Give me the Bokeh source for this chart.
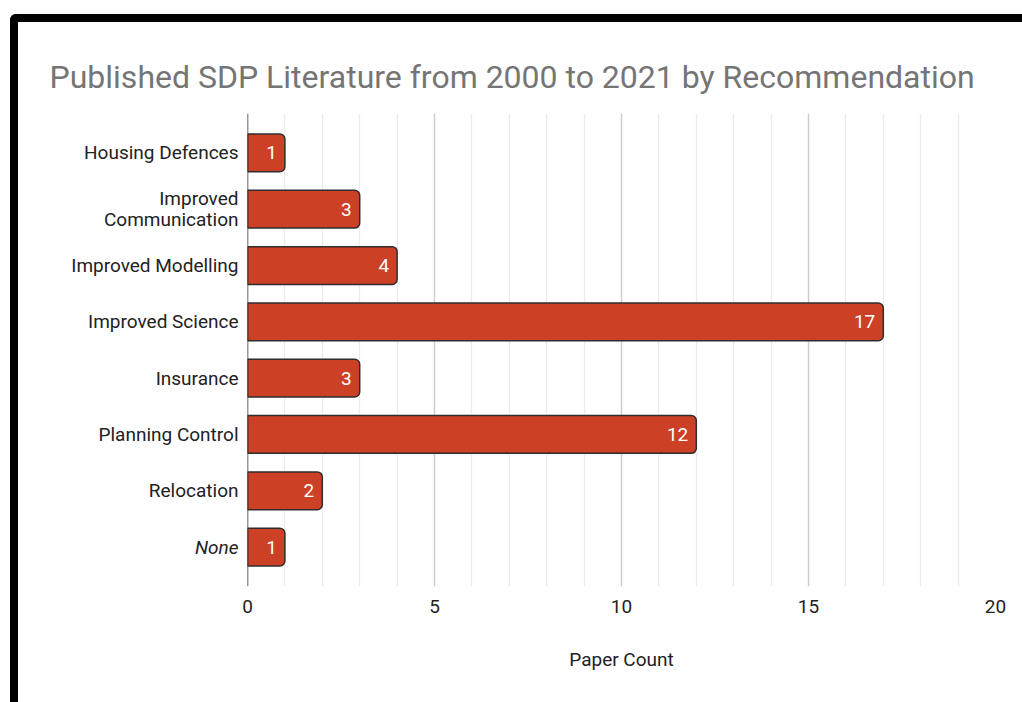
from bokeh.plotting import figure
from bokeh.models import (FactorRange, Range1d, SingleIntervalTicker, ColumnDataSource,
                          Title, Span, InlineStyleSheet)
from bokeh.core.properties import value
from bokeh.embed import file_html
from bokeh.resources import INLINE

categories = ["Housing Defences", "Improved\nCommunication", "Improved Modelling",
              "Improved Science", "Insurance", "Planning Control", "Relocation", "None"]
counts = [1, 3, 4, 17, 3, 12, 2, 1]
count_labels = [str(c) for c in counts]

title_text = "Published SDP Literature from 2000 to 2021 by Recommendation"
x_label = "Paper Count"
x_max = 20

FONT = "Roboto"
BAR = "#cc4125"
TXT = "#222222"

factors = list(reversed(categories))
src = ColumnDataSource(dict(cat=categories, n=counts, lab=count_labels))

p = figure(width=1022, height=702, output_backend="svg", toolbar_location=None,
           y_range=FactorRange(factors=factors, range_padding=0.2, range_padding_units="absolute"),
           x_range=Range1d(0, x_max),
           min_border_left=247, min_border_right=27, min_border_top=113, min_border_bottom=116)

p.add_layout(Title(text=title_text, text_font=FONT, text_font_size="32px", text_color="#757575",
                   text_font_style="normal", align="left", offset=-198, standoff=35), "above")

p.hbar(y="cat", right="n", left=0, height=0.67, source=src, fill_color=BAR,
       line_color="#2e2e2e", line_width=1.5, border_radius=(0, 5, 5, 0))

p.text(x="n", y="cat", text="lab", source=src, x_offset=-8, text_align="right",
       text_baseline="middle", text_color="white", text_font=value(FONT), text_font_size="19px")

# category labels (the empty category is shown in italics, as in the original)
cat_src = ColumnDataSource(dict(x=[0] * len(categories), y=categories, t=categories,
                                st=["italic" if c == "None" else "normal" for c in categories]))
r_cat = p.text(x="x", y="y", text="t", source=cat_src, x_offset=-9, text_align="right",
               text_baseline="middle", text_color=TXT, text_font=value(FONT),
               text_font_size="19px", text_font_style="st", text_line_height=0.9)
r_cat.level = "overlay"

p.add_layout(Span(location=0, dimension="height", line_color="#333333", line_width=1.5))

p.background_fill_color = "white"
p.border_fill_color = "white"
p.outline_line_color = None

p.xaxis.ticker = SingleIntervalTicker(interval=5, num_minor_ticks=5)
p.xgrid.ticker = p.xaxis.ticker
p.xgrid.grid_line_color = "#cccccc"
p.xgrid.minor_grid_line_color = "#ebebeb"
p.xgrid.grid_line_width = 1.3
p.xgrid.minor_grid_line_width = 1.3
p.ygrid.grid_line_color = None

p.xaxis.axis_line_color = None
p.xaxis.major_tick_line_color = None
p.xaxis.minor_tick_line_color = None
p.xaxis.major_label_text_font = FONT
p.xaxis.major_label_text_font_size = "19px"
p.xaxis.major_label_text_color = TXT
p.xaxis.major_label_standoff = 7
p.xaxis.axis_label = x_label
p.xaxis.axis_label_text_font = FONT
p.xaxis.axis_label_text_font_size = "19px"
p.xaxis.axis_label_text_font_style = "normal"
p.xaxis.axis_label_text_color = TXT
p.xaxis.axis_label_standoff = 32

p.yaxis.visible = False

# black frame of the original screenshot
p.stylesheets = [InlineStyleSheet(css=(
    ":host::after { content: ''; position: absolute; left: 10px; top: 14px; "
    "width: 1012px; height: 688px; box-sizing: border-box; "
    "border-top: 8px solid #000; border-left: 8px solid #000; "
    "border-top-left-radius: 6px; pointer-events: none; z-index: 10; }"))]

open("out.html", "w").write(file_html(p, INLINE))
